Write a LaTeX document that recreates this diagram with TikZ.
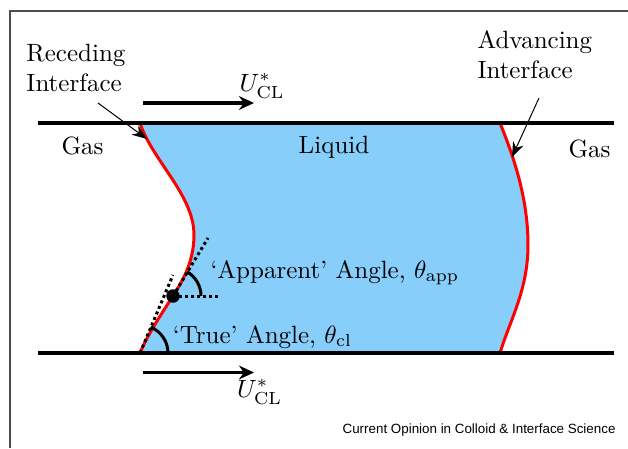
\documentclass[tikz,border=0pt]{standalone}
\usepackage{fontspec}
\newfontfamily\journalfont{Liberation Sans}
\usetikzlibrary{arrows.meta}
\definecolor{liquidblue}{RGB}{135,206,250}
\tikzset{wall/.style={line width=1.6pt},
 iface/.style={draw=red,line width=1.2pt},
 flow/.style={-{Stealth[length=6pt,width=5.5pt]},line width=1.5pt},
 pointer/.style={-{Stealth[length=6pt,width=4.5pt]},line width=0.4pt},
 tangent/.style={line width=1.2pt,dash pattern=on 1.2pt off 1.2pt},
 anglearc/.style={line width=1.2pt},
 lbl/.style={inner sep=0pt}}

\begin{document}
\begin{tikzpicture}[x=0.4pt,y=-0.4pt]
 \useasboundingbox (0,0) rectangle (628,448);
 \draw[black!70,line width=0.6pt] (10,448)--(10,11)--(628,11);
 % liquid slug between the two interfaces
 \fill[liquidblue] (140,123) .. controls (152,160) and (194,195) .. (194,235)
  .. controls (194,262) and (182,282) .. (173,296)
  .. controls (160,316) and (147,336) .. (140,353) -- (500,353)
  .. controls (510,320) and (528,290) .. (528,245)
  .. controls (528,200) and (515,160) .. (500,123) -- cycle;
 \draw[iface] (140,123) .. controls (152,160) and (194,195) .. (194,235)
  .. controls (194,262) and (182,282) .. (173,296)
  .. controls (160,316) and (147,336) .. (140,353);
 \draw[iface] (500,123) .. controls (515,160) and (528,200) .. (528,245)
  .. controls (528,290) and (510,320) .. (500,353);
 \draw[wall] (38,123)--(614,123);
 \draw[wall] (38,353)--(614,353);
 % contact angles
 \coordinate (cl) at (140,353);
 \node[circle,fill,inner sep=0pt,minimum size=5.4pt] (app) at (173,296) {};
 \draw[tangent] (cl)--(173,275);
 \draw[tangent] (app.center)--(208,238);
 \draw[tangent] (app.center)--(219,296);
 \draw[anglearc] (168,353) arc[start angle=0,end angle=-67.6,radius=28];
 \draw[anglearc] (201,296) arc[start angle=0,end angle=-59,radius=28];
 % labels
 \node[lbl,anchor=north west,align=left] (rec) at (26,43.6) {Receding\\Interface};
 \node[lbl,anchor=north west,align=left] (adv) at (477,29.6) {Advancing\\Interface};
 \node[lbl,anchor=base] (gasl) at (82.5,154) {Gas};
 \node[lbl,anchor=base] (liq) at (334,153) {Liquid};
 \node[lbl,anchor=base] (gasr) at (589.5,157) {Gas};
 \node[lbl,anchor=base west] (utop) at (239,91) {$U^*_{\mathrm{CL}}$};
 \node[lbl,anchor=base west] (ubot) at (236.5,397) {$U^*_{\mathrm{CL}}$};
 \node[lbl,anchor=base west] (appl) at (210,278) {`Apparent' Angle, $\theta_{\mathrm{app}}$};
 \node[lbl,anchor=base west] (truel) at (172.5,343) {`True' Angle, $\theta_{\mathrm{cl}}$};
 \node[lbl,anchor=base east] (src) at (616,433)
  {\journalfont\fontsize{5.35}{6}\selectfont Current Opinion in Colloid \& Interface Science};
 % arrows
 \coordinate (rectail) at (98,103);
 \coordinate (rectip) at (147,139);
 \coordinate (advtail) at (539,98);
 \coordinate (advtip) at (512,157);
 \draw[pointer] (rectail)--(rectip);
 \draw[pointer] (advtail)--(advtip);
 \coordinate (ft0) at (143,103);
 \coordinate (ft1) at (254,103);
 \coordinate (fb0) at (143,372.5);
 \coordinate (fb1) at (254,372.5);
 \draw[flow] (ft0)--(ft1);
 \draw[flow] (fb0)--(fb1);
\end{tikzpicture}
\end{document}
